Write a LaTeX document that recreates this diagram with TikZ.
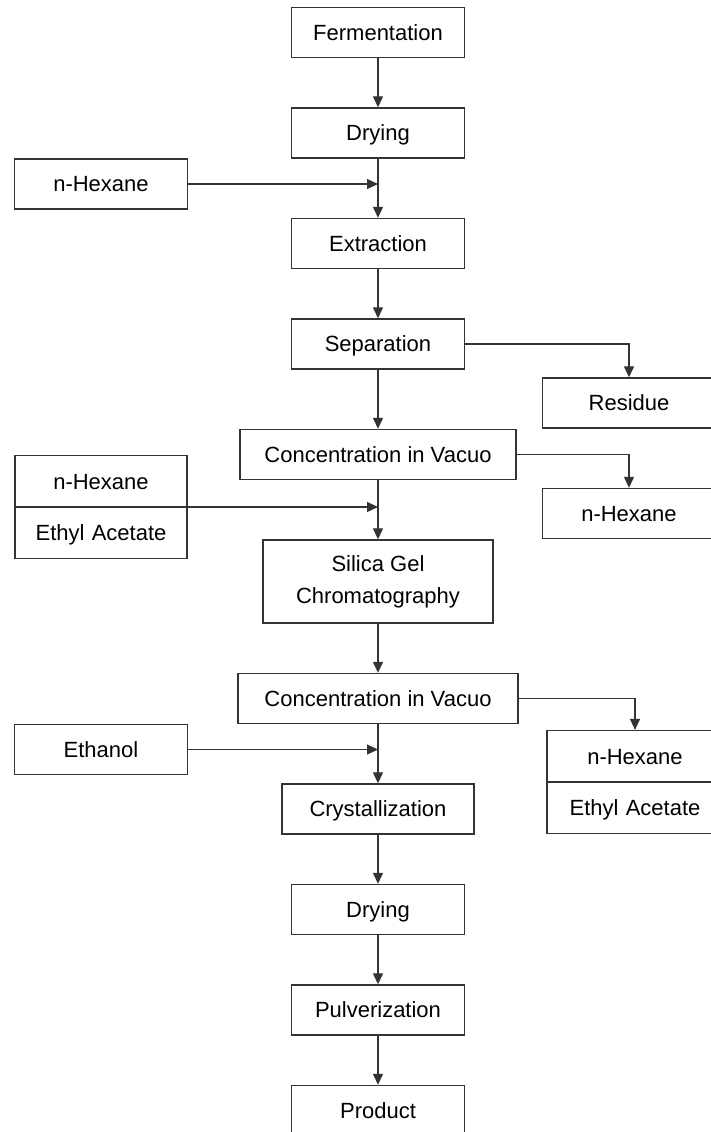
\documentclass[tikz,border=0pt]{standalone}
\usepackage{fontspec}
\setmainfont{Liberation Sans}
\usetikzlibrary{
  arrows.meta,
  positioning,
  shapes.multipart
}
\definecolor{lineGray}{rgb}{0.2,0.2,0.2}
\newcommand{\partStrut}{\rule[-8.6pt]{0pt}{25pt}}
\tikzset{
  stepbox/.style={
    rectangle,
    draw=lineGray,
    line width=0.7pt,
    minimum width=86.5pt,
    minimum height=25pt,
    inner sep=0pt,
    text height=7.8pt,
    text depth=0pt,
    font=\fontsize{11}{13}\selectfont
  }
}
\tikzset{
  splitbox/.style={
    rectangle split,
    rectangle split parts=2,
    draw=lineGray,
    line width=0.7pt,
    text width=86pt,
    align=center,
    inner sep=0pt,
    font=\fontsize{11}{13}\selectfont
  }
}
\tikzset{
  flow/.style={draw=lineGray, line width=0.65pt}
}

\begin{document}
\begin{tikzpicture}[>={Triangle[width=5pt,length=5.5pt]}, node distance=24.55pt]
    \useasboundingbox (0,0) rectangle (355.5pt,-566pt);

    % main column
    \node[stepbox] (ferm) at (189pt,-16.25pt) {Fermentation};
    \node[stepbox, below=of ferm] (dry1) {Drying};
    \node[stepbox, below=29.55pt of dry1] (extr) {Extraction};
    \node[stepbox, below=of extr] (sep) {Separation};
    \node[stepbox, minimum width=138pt, below=29.55pt of sep] (conc1)
      {Concentration in Vacuo};
    \node[stepbox, minimum width=115pt, minimum height=41.5pt,
      text height=, text depth=, align=center,
      font=\fontsize{11}{16}\selectfont, below=29.55pt of conc1] (silica)
      {Silica Gel\\Chromatography};
    \node[stepbox, minimum width=140pt, below=of silica] (conc2)
      {Concentration in Vacuo};
    \node[stepbox, minimum width=96pt, below=29.55pt of conc2] (cryst)
      {Crystallization};
    \node[stepbox, below=of cryst] (dry2) {Drying};
    \node[stepbox, below=of dry2] (pulv) {Pulverization};
    \node[stepbox, below=of pulv] (prod) {Product};

    % side boxes
    \node[stepbox] (hexIn) at (50.5pt,-92pt) {n-Hexane};
    \node[stepbox] (res) at (314.5pt,-201.5pt) {Residue};
    \node[stepbox] (hexOut) at (314.5pt,-256.75pt) {n-Hexane};
    \node[splitbox, anchor=text split] (mixIn) at (50.5pt,-253.5pt)
      {\partStrut n-Hexane\nodepart{two}\partStrut Ethyl Acetate};
    \node[stepbox] (eth) at (50.5pt,-374.75pt) {Ethanol};
    \node[splitbox, anchor=text split, text width=88pt] (mixOut)
      at (317.5pt,-391pt)
      {\partStrut n-Hexane\nodepart{two}\partStrut Ethyl Acetate};

    \foreach \from/\to in {ferm/dry1, dry1/extr, extr/sep, sep/conc1,
      conc1/silica, silica/conc2, conc2/cryst, cryst/dry2, dry2/pulv,
      pulv/prod}
      \draw[flow, ->] (\from) -- (\to);

    % inputs
    \draw[flow, ->] (hexIn.east) -- (hexIn.east -| dry1.south);
    \draw[flow, ->] (mixIn.text split east) -- (mixIn.text split east -| conc1.south);
    \draw[flow, ->] (eth.east) -- (eth.east -| conc2.south);

    % outputs
    \draw[flow, ->] (sep.east) -| (res.north);
    \draw[flow, ->] (conc1.east) -| (hexOut.north);
    \draw[flow, ->] (conc2.east) -| (mixOut.north);
\end{tikzpicture}
\end{document}
